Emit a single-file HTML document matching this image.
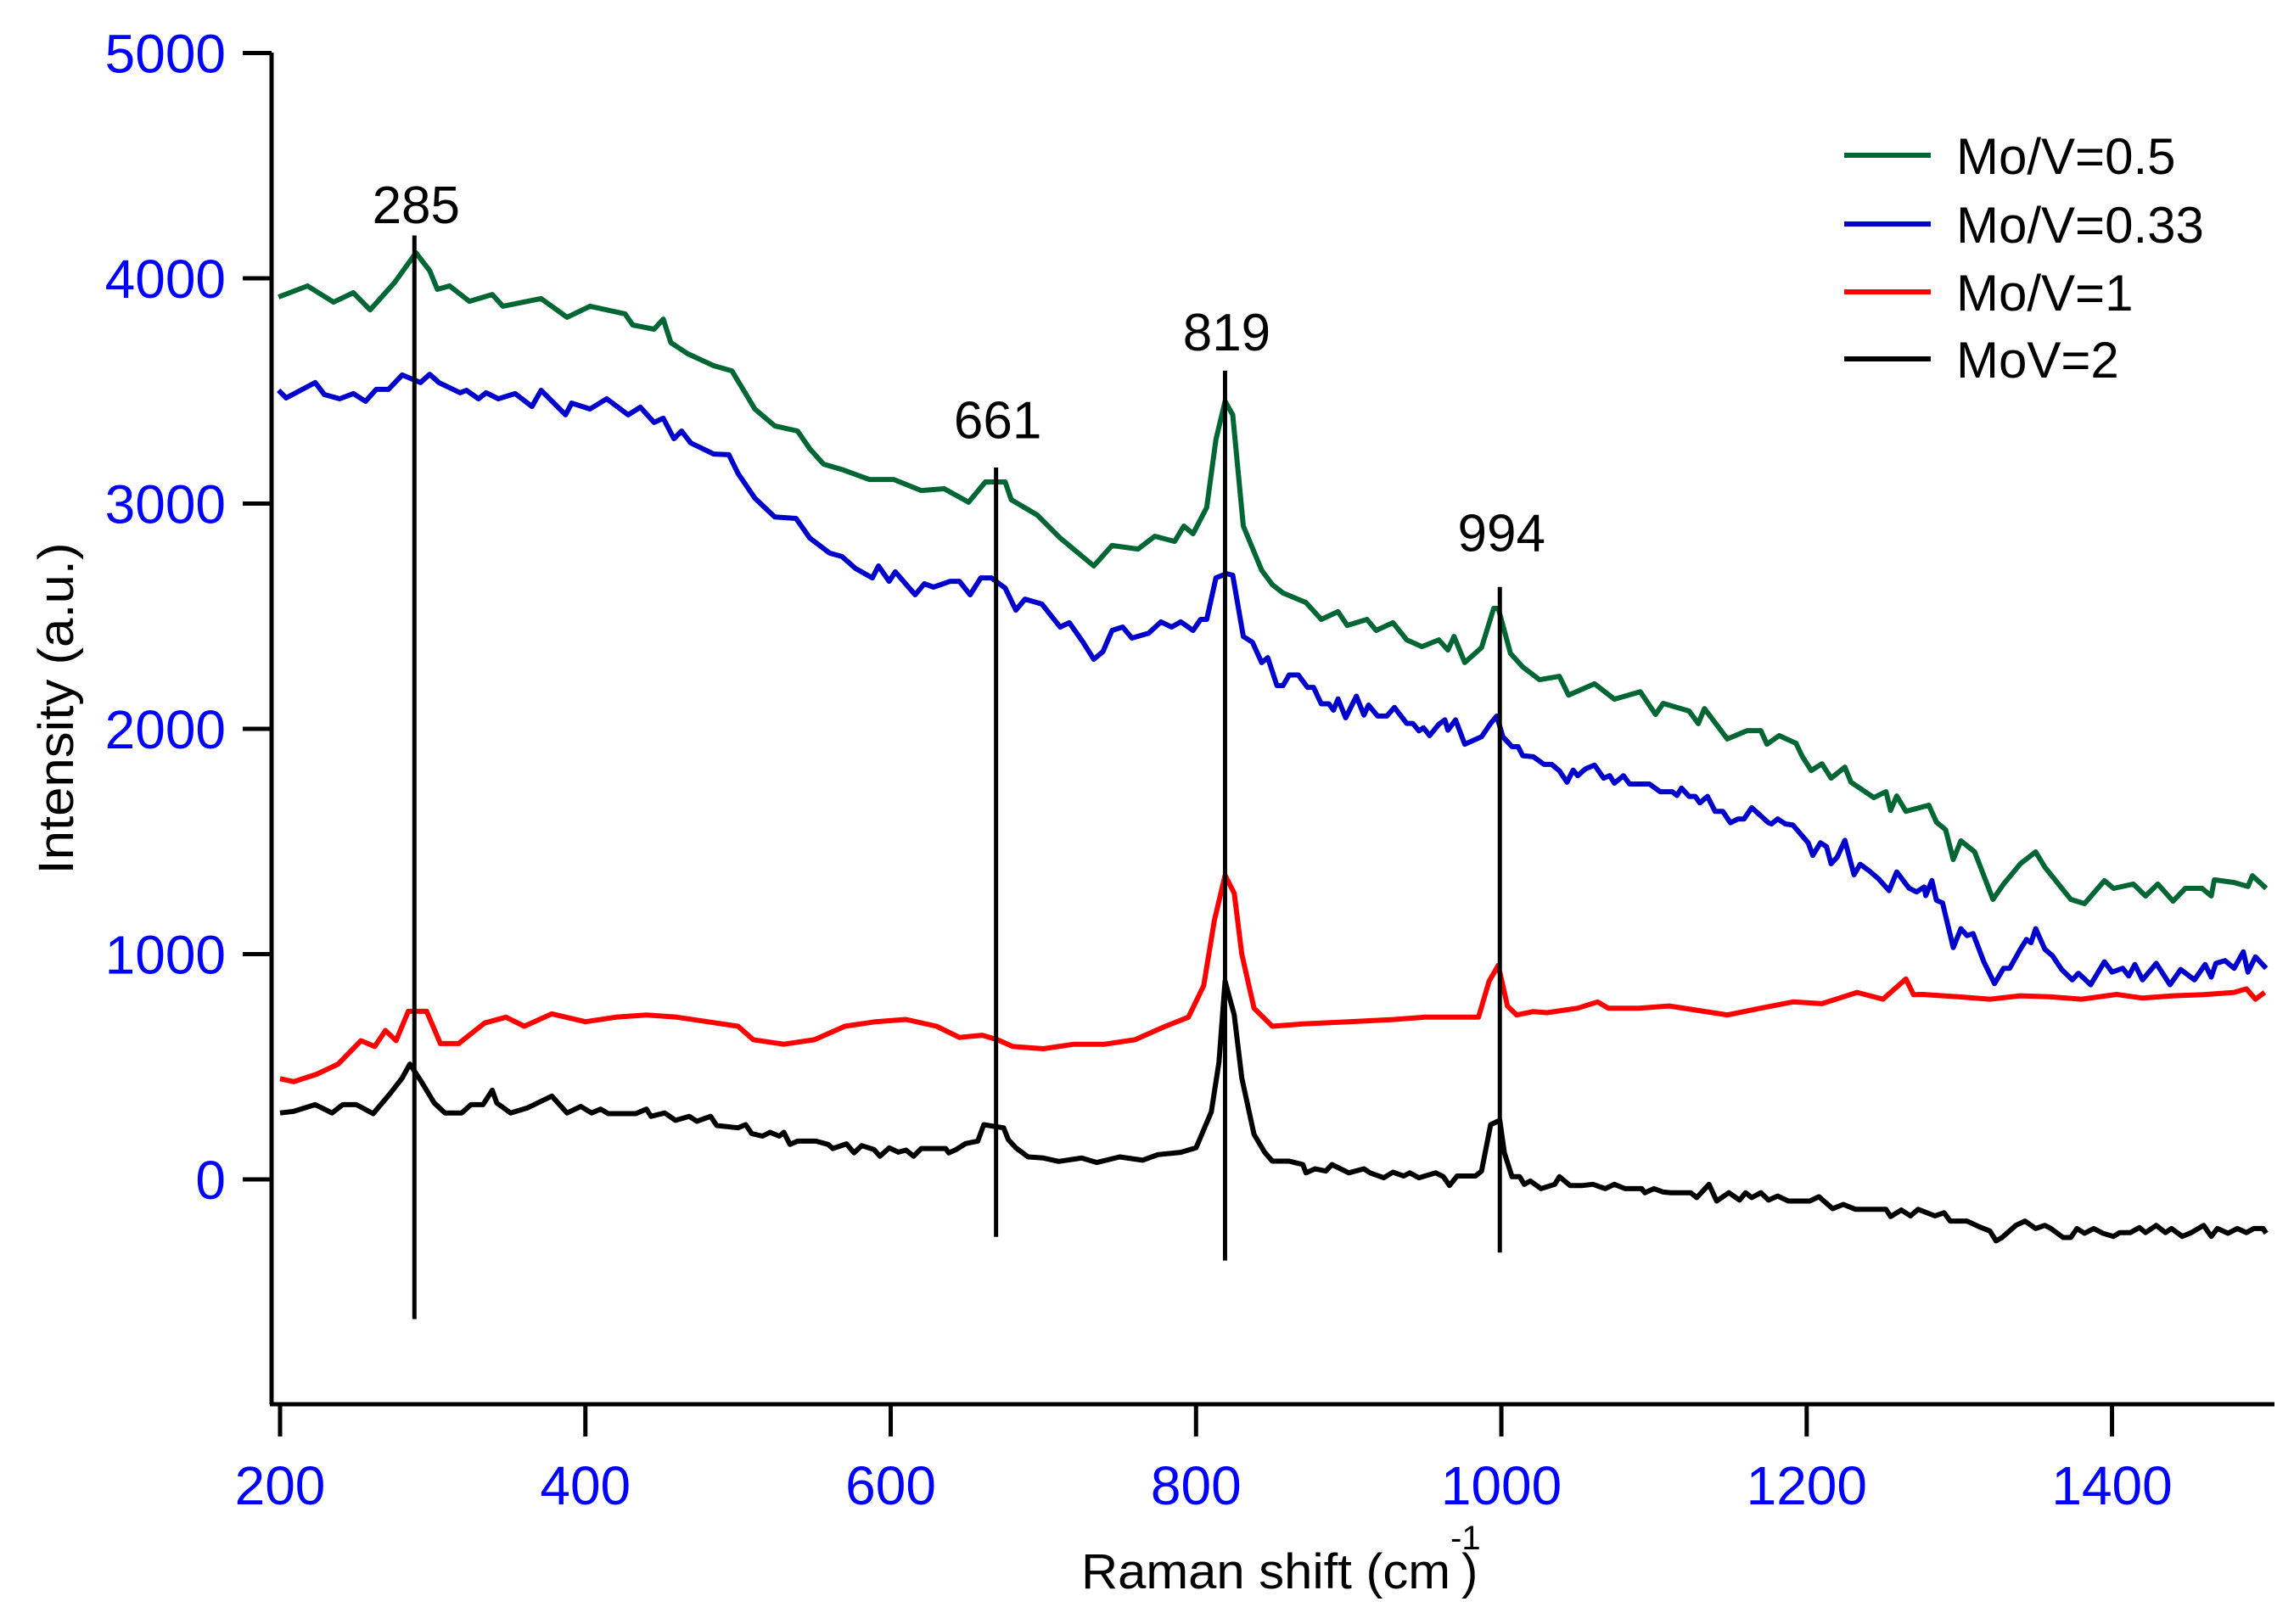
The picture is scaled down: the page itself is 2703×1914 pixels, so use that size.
<!DOCTYPE html>
<html><head><meta charset="utf-8"><style>
html,body{margin:0;padding:0;background:#fff;}
svg{display:block;font-family:"Liberation Sans",sans-serif;}
</style></head><body>
<svg id="chart" width="2703" height="1914" viewBox="0 0 2703 1914" xmlns="http://www.w3.org/2000/svg">
<rect width="2703" height="1914" fill="#fff"/>
<g id="axes"></g>
<g id="series"></g>
<g id="peaks"></g>
<g id="legend"></g>
<text transform="translate(86,835) rotate(-90)" text-anchor="middle" font-size="58" textLength="391" lengthAdjust="spacingAndGlyphs">Intensity (a.u.)</text>
<text x="1274" y="1872" font-size="58" textLength="435" lengthAdjust="spacingAndGlyphs">Raman shift (cm</text>
<text x="1709" y="1826" font-size="40">-1</text>
<text x="1722" y="1872" font-size="58">)</text>
</svg>
<script>
const xTicks=[200,400,600,800,1000,1200,1400];
const yTicks=[0,1000,2000,3000,4000,5000];
const greenX=[199,218,235,248,259,275,289,298,303,311,324,339,346,371,388,403,426,431,445,451,456,467,484,496,511,524,539,547,556,569,586,602,620,635,651,662,675,679,696,711,733,745,762,773,786,792,798,807,813,819,824,831,843,850,857,872,882,893,899,912,918,929,938,948,959,965,969,976,987,995,998,1006,1014,1025,1038,1044,1061,1074,1091,1101,1106,1123,1129,1133,1148,1161,1170,1174,1182,1193,1197,1203,1210,1216,1225,1229,1244,1252,1255,1259,1265,1280,1285,1291,1296,1301,1310,1322,1329,1340,1350,1356,1373,1382,1395,1401,1414,1422,1430,1440,1448,1459,1465,1467,1480,1489,1492,1501];
const greenY=[3917,3966,3894,3936,3860,3981,4113,4034,3951,3966,3898,3928,3876,3910,3827,3876,3842,3793,3774,3819,3714,3665,3612,3589,3420,3345,3322,3243,3175,3149,3107,3107,3058,3066,3006,3096,3096,3017,2949,2847,2723,2814,2798,2855,2832,2900,2866,2983,3284,3454,3394,2900,2704,2640,2603,2561,2486,2520,2459,2486,2437,2471,2395,2365,2395,2350,2410,2294,2361,2535,2535,2335,2275,2218,2233,2150,2200,2132,2165,2064,2113,2079,2023,2090,1955,1992,1992,1932,1970,1936,1879,1815,1845,1781,1830,1763,1695,1721,1638,1702,1634,1661,1586,1552,1420,1503,1454,1243,1311,1401,1454,1386,1243,1224,1326,1292,1311,1258,1311,1235,1292,1292,1258,1330,1318,1300,1348,1292];
const blueX=[199,204,223,229,239,248,256,263,271,280,292,298,304,318,322,330,335,343,354,365,371,387,391,403,414,428,436,445,451,458,463,469,484,494,500,511,524,538,547,560,568,577,588,592,599,603,616,622,628,639,645,652,659,666,675,682,688,699,711,717,726,733,739,745,752,758,769,777,784,790,798,803,807,813,820,824,831,837,843,847,853,857,861,867,873,877,882,887,890,893,898,905,910,913,919,925,930,938,942,946,949,953,959,963,965,970,976,987,993,997,1001,1007,1011,1014,1021,1028,1033,1038,1043,1047,1050,1055,1061,1067,1071,1074,1080,1084,1097,1104,1112,1115,1118,1123,1127,1130,1135,1140,1145,1150,1155,1159,1164,1175,1177,1181,1186,1191,1201,1204,1209,1213,1216,1220,1225,1231,1235,1241,1247,1254,1259,1267,1272,1277,1278,1282,1285,1289,1296,1301,1305,1309,1316,1323,1329,1333,1340,1344,1347,1350,1356,1361,1367,1374,1378,1386,1395,1400,1407,1411,1415,1420,1429,1438,1445,1454,1461,1465,1468,1474,1480,1486,1489,1494,1501];
const blueY=[3503,3469,3537,3484,3465,3488,3454,3507,3507,3571,3537,3574,3537,3492,3503,3465,3492,3465,3488,3431,3503,3394,3446,3420,3465,3394,3428,3360,3379,3288,3322,3269,3220,3217,3134,3024,2941,2934,2847,2780,2765,2712,2670,2723,2655,2697,2595,2644,2629,2655,2655,2595,2670,2670,2625,2527,2576,2554,2452,2471,2384,2309,2343,2437,2452,2403,2425,2475,2452,2475,2437,2486,2486,2670,2689,2682,2410,2384,2294,2316,2192,2192,2239,2239,2184,2184,2111,2111,2083,2133,2049,2145,2061,2106,2057,2057,2095,2024,2024,1991,2005,1970,2020,2040,1994,2040,1932,1965,2024,2057,1965,1921,1921,1881,1876,1842,1842,1814,1763,1817,1792,1822,1839,1781,1792,1759,1792,1755,1755,1721,1721,1704,1737,1700,1700,1671,1700,1634,1634,1583,1600,1600,1650,1583,1578,1600,1578,1573,1494,1438,1494,1477,1401,1431,1505,1352,1399,1369,1335,1282,1365,1293,1276,1298,1260,1327,1239,1227,1029,1113,1082,1091,966,869,937,937,1022,1065,1051,1113,1022,993,932,886,915,864,966,920,937,903,954,886,959,864,932,886,954,898,959,971,937,1010,920,988,937];
const redX=[200,209,224,238,253,262,269,276,284,296,305,317,334,348,360,378,400,420,440,460,480,500,510,530,550,570,590,610,630,645,660,670,680,700,720,740,760,780,795,805,812,819,825,830,838,850,870,900,930,950,970,985,992,998,1004,1010,1021,1030,1050,1063,1070,1090,1110,1148,1170,1191,1210,1233,1250,1265,1270,1276,1300,1320,1340,1360,1380,1403,1420,1440,1460,1480,1488,1494,1500];
const redY=[447,434,467,512,616,590,661,616,746,746,603,603,694,720,680,735,700,720,730,720,700,680,620,600,620,680,700,710,680,630,640,620,590,580,600,600,620,680,720,860,1150,1350,1270,1000,760,680,690,700,710,720,720,720,880,950,770,730,745,740,760,788,760,760,770,730,760,788,780,830,800,890,820,821,810,800,815,810,800,821,805,815,820,830,846,800,830];
const blackX=[200,209,223,234,241,250,261,272,280,285,292,301,308,319,325,333,339,342,351,362,378,388,397,404,410,415,433,440,443,452,459,468,473,482,486,500,505,509,516,521,527,530,534,539,551,559,562,571,576,581,589,593,599,605,610,615,620,636,638,643,649,657,661,667,674,677,682,690,700,710,725,735,750,765,775,790,800,810,815,819,825,830,838,845,850,861,870,872,878,885,889,900,910,914,923,929,936,940,946,957,962,966,971,983,987,993,999,1002,1007,1012,1015,1019,1026,1035,1038,1045,1053,1060,1068,1074,1081,1092,1094,1100,1106,1111,1124,1128,1136,1141,1149,1156,1160,1164,1170,1175,1181,1188,1202,1208,1217,1224,1232,1252,1255,1262,1268,1273,1284,1290,1294,1305,1313,1320,1324,1328,1337,1343,1350,1356,1360,1368,1373,1377,1382,1388,1394,1401,1405,1412,1418,1422,1429,1435,1439,1446,1452,1460,1465,1469,1476,1482,1488,1493,1499,1501];
const blackY=[295,302,332,295,332,332,292,380,450,512,440,339,295,295,332,332,396,339,295,317,370,295,324,295,312,292,292,312,280,295,262,280,258,280,239,229,243,203,192,209,192,209,155,170,170,155,137,158,118,150,133,103,140,121,130,103,137,137,118,133,159,170,243,236,229,177,140,100,95,80,95,75,100,85,110,120,140,300,520,880,730,450,200,120,81,81,66,29,47,37,66,29,47,29,7,32,15,29,7,29,12,-27,15,15,37,243,262,118,12,12,-22,-7,-41,-22,12,-27,-27,-22,-41,-22,-41,-41,-59,-41,-56,-59,-59,-81,-22,-96,-59,-92,-59,-81,-59,-92,-74,-96,-96,-77,-130,-111,-133,-133,-165,-136,-162,-133,-162,-148,-185,-185,-210,-229,-273,-258,-204,-185,-218,-204,-218,-258,-258,-218,-239,-218,-239,-253,-236,-236,-214,-236,-204,-236,-218,-253,-236,-204,-253,-218,-239,-218,-236,-218,-218,-239];
const seriesNames=["Mo/V=0.5","Mo/V=0.33","Mo/V=1","MoV=2"];
const seriesColors=["#006633","#0000cc","#ff0000","#000000"];
const peakLabels=["285","661","819","994"];
const peakPos=[288,669,819,999];
const peakTop=[4190,3160,3590,2630];
const peakBottom=[-620,-255,-360,-325];
const peakLabelVal=[4245,3290,3680,2790];

const NS="http://www.w3.org/2000/svg";
function xs(v){return 330+(v-200)*1.7988;}
function ys(v){return 1390-v*0.2655;}
function mk(tag,attrs,parent){const e=document.createElementNS(NS,tag);for(const k in attrs)e.setAttribute(k,attrs[k]);parent.appendChild(e);return e;}

const axes=document.getElementById('axes');
let e;
e=mk('line',{x1:320,y1:62,x2:320,y2:1655,stroke:'#000','stroke-width':5},axes);


e=mk('line',{x1:318,y1:1655,x2:2680,y2:1655,stroke:'#000','stroke-width':5},axes);


yTicks.forEach(t=>{
  const y=ys(t);
  const l=mk('line',{x1:286,y1:y,x2:320,y2:y,stroke:'#000','stroke-width':5},axes);
  
  
  const tx=mk('text',{x:266,y:y+23,'text-anchor':'end','font-size':64,fill:'#0000ff'},axes);
  tx.textContent=t;
  
  
});
xTicks.forEach(t=>{
  const x=xs(t);
  const l=mk('line',{x1:x,y1:1655,x2:x,y2:1693,stroke:'#000','stroke-width':5},axes);
  
  
  const tx=mk('text',{x:x,y:1773,'text-anchor':'middle','font-size':64,fill:'#0000ff'},axes);
  tx.textContent=t;
  
  
});

const sg=document.getElementById('series');
const allX=[greenX,blueX,redX,blackX], allY=[greenY,blueY,redY,blackY];
const snames=['series-mov-0.5','series-mov-0.33','series-mov-1','series-mov-2'];
for(let i=0;i<4;i++){
  const d=allX[i].map((v,j)=>(j?'L':'M')+xs(v).toFixed(1)+','+ys(allY[i][j]).toFixed(1)).join('');
  const p=mk('path',{d:d,fill:'none',stroke:seriesColors[i],'stroke-width':6,'stroke-linejoin':'round'},sg);
  
  
}

const pg=document.getElementById('peaks');
peakLabels.forEach((lab,i)=>{
  const x=xs(peakPos[i]);
  const l=mk('line',{x1:x,y1:ys(peakTop[i]),x2:x,y2:ys(peakBottom[i]),stroke:'#000','stroke-width':5},pg);
  
  
  const t=mk('text',{x:x+2,y:ys(peakLabelVal[i]),'text-anchor':'middle','font-size':62,fill:'#000'},pg);
  t.textContent=lab;
  
  
});

const lg=document.getElementById('legend');
const legY=[183,264,344,423];
seriesNames.forEach((n,i)=>{
  const l=mk('line',{x1:2173,y1:legY[i],x2:2275,y2:legY[i],stroke:seriesColors[i],'stroke-width':6},lg);
  
  
  const t=mk('text',{x:2305,y:legY[i]+22,'font-size':60,fill:'#000'},lg);
  t.textContent=n;
  
  
});
</script>
</body></html>
